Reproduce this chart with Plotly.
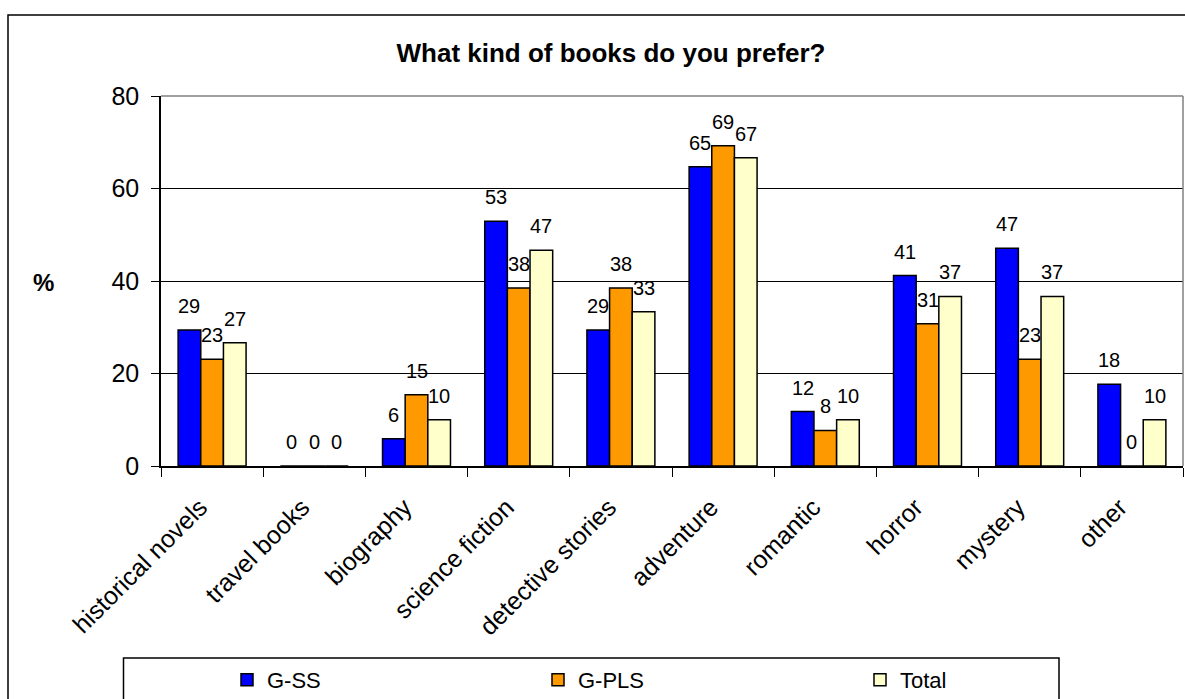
import plotly.graph_objects as go

categories = ["historical novels", "travel books", "biography", "science fiction",
              "detective stories", "adventure", "romantic", "horror", "mystery", "other"]
g_ss = [29.41, 0, 5.88, 52.94, 29.41, 64.71, 11.76, 41.18, 47.06, 17.65]
g_pls = [23.08, 0, 15.38, 38.46, 38.46, 69.23, 7.69, 30.77, 23.08, 0]
total = [26.67, 0, 10.0, 46.67, 33.33, 66.67, 10.0, 36.67, 36.67, 10.0]
series_names = ["G-SS", "G-PLS", "Total"]
series_colors = ["#0000FF", "#FF9900", "#FFFFCC"]
y_ticks = [0, 20, 40, 60, 80]

W, H = 1185, 699
ML, MR, MT, MB = 161, 2, 96, 233
PW = W - ML - MR
PH = H - MT - MB
BARGAP = 0.335
FONT = "Arial, Liberation Sans, sans-serif"


def px_x(p):
    return (p - ML) / PW


def px_y(p):
    return (H - MB - p) / PH


fig = go.Figure()
all_series = [g_ss, g_pls, total]
legend_ids = ["legend", "legend2", "legend3"]
legend_marker_px = [247, 558, 880]
for name, vals, col, lg in zip(series_names, all_series, series_colors, legend_ids):
    fig.add_trace(go.Bar(
        x=categories, y=vals, name=name, legend=lg,
        marker=dict(color=col, line=dict(color="#000000", width=1.5)),
    ))

# data labels
bar_w = PW / len(categories) * (1 - BARGAP) / len(all_series)
annotations = []
for k, vals in enumerate(all_series):
    for c, v in zip(categories, vals):
        annotations.append(dict(
            x=c, y=v, xref="x", yref="y", text=f"{v:.0f}", showarrow=False,
            xshift=(k - 1) * bar_w, yshift=11, yanchor="bottom", xanchor="center",
            font=dict(family=FONT, size=20, color="#000000"),
        ))

annotations.append(dict(
    x=px_x(43), y=px_y(282), xref="paper", yref="paper", text="<b>%</b>",
    showarrow=False, xanchor="center", yanchor="middle",
    font=dict(family=FONT, size=24, color="#000000"),
))

shapes = [
    # outer chart border
    dict(type="rect", xref="paper", yref="paper", x0=px_x(8), x1=px_x(1214),
         y0=px_y(720), y1=px_y(15), line=dict(color="#000000", width=1.5), layer="below"),
    # legend box
    dict(type="rect", xref="paper", yref="paper", x0=px_x(123.5), x1=px_x(1059),
         y0=px_y(720), y1=px_y(658), line=dict(color="#000000", width=1.5), layer="below"),
    # plot-area border top/right (grey)
    dict(type="line", xref="paper", yref="paper", x0=0, x1=1, y0=1, y1=1,
         line=dict(color="#808080", width=1.5), layer="above"),
    dict(type="line", xref="paper", yref="paper", x0=1, x1=1, y0=0, y1=1,
         line=dict(color="#808080", width=1.5), layer="above"),
]

legend_common = dict(
    orientation="h", xanchor="left", yanchor="middle", xref="paper", yref="paper",
    bgcolor="rgba(0,0,0,0)", borderwidth=0,
    font=dict(family=FONT, size=22, color="#000000"),
)
legends = {}
for lg, mx in zip(legend_ids, legend_marker_px):
    legends[lg] = dict(legend_common, x=px_x(mx - 20), y=px_y(680))

fig.update_layout(
    width=W, height=H,
    margin=dict(l=ML, r=MR, t=MT, b=MB, pad=0, autoexpand=False),
    paper_bgcolor="#FFFFFF", plot_bgcolor="#FFFFFF",
    font=dict(family=FONT, color="#000000"),
    barmode="group", bargap=BARGAP, bargroupgap=0,
    title=dict(text="<b>What kind of books do you prefer?</b>", x=px_x(611), xref="paper",
               xanchor="center", y=1 - 53 / H, yref="container", yanchor="middle",
               font=dict(family=FONT, size=26, color="#000000")),
    xaxis=dict(
        type="category", tickson="boundaries", ticks="outside", ticklen=9,
        tickcolor="#000000", tickwidth=1, showline=True, linecolor="#000000", linewidth=1.5,
        tickangle=-45, tickfont=dict(family=FONT, size=25, color="#000000"),
        ticklabelstandoff=15, ticklabelshift=-12,
        showgrid=False, zeroline=False, automargin=False,
    ),
    yaxis=dict(
        range=[0, 80], tickvals=y_ticks, ticks="outside", ticklen=8, tickcolor="#000000",
        tickwidth=1, showline=True, linecolor="#000000", linewidth=1.5,
        showgrid=True, gridcolor="#000000", gridwidth=1, zeroline=False,
        tickfont=dict(family=FONT, size=25, color="#000000"), ticklabelstandoff=7,
        automargin=False,
    ),
    showlegend=True,
    annotations=annotations,
    shapes=shapes,
    **legends,
)

fig.write_html("out.html")
